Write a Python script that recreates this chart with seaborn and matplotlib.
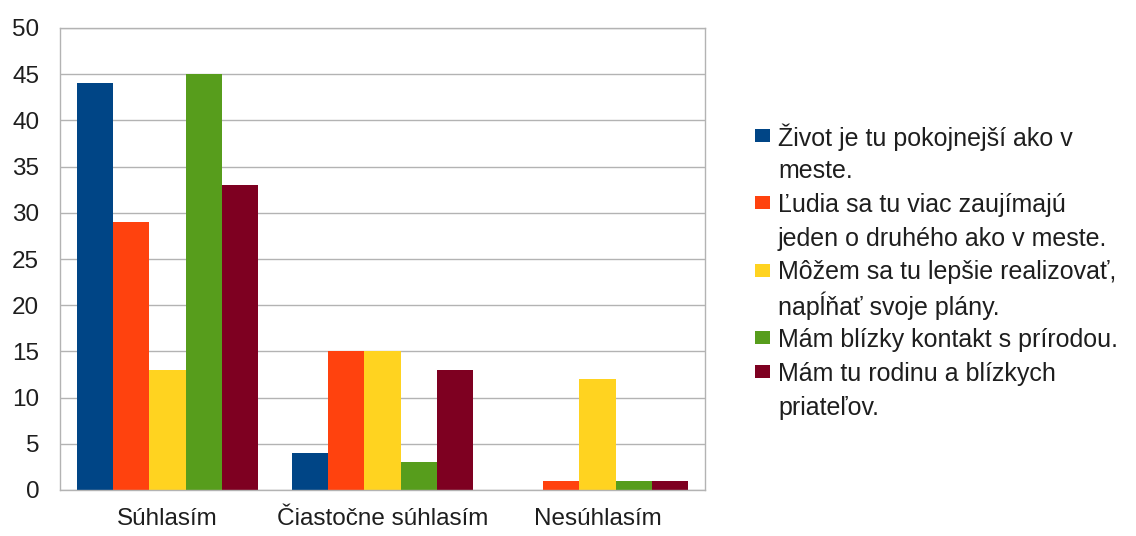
import pandas as pd
import matplotlib
matplotlib.use("Agg")
import matplotlib.pyplot as plt
from matplotlib.patches import Rectangle
import seaborn as sns

# Data
categories = ["Súhlasím", "Čiastočne súhlasím", "Nesúhlasím"]
series_names = [
    "Život je tu pokojnejší ako v\nmeste.",
    "Ľudia sa tu viac zaujímajú\njeden o druhého ako v meste.",
    "Môžem sa tu lepšie realizovať,\nnapĺňať svoje plány.",
    "Mám blízky kontakt s prírodou.",
    "Mám tu rodinu a blízkych\npriateľov.",
]
zivot = [44, 4, 0]
ludia = [29, 15, 1]
mozem = [13, 15, 12]
priroda = [45, 3, 1]
rodina = [33, 13, 1]
colors = ["#004586", "#ff420e", "#ffd320", "#579d1c", "#7e0021"]

rows = []
for name, vals in zip(series_names, [zivot, ludia, mozem, priroda, rodina]):
    for cat, v in zip(categories, vals):
        rows.append({"category": cat, "series": name, "value": v})
df = pd.DataFrame(rows)

sns.set_style("white")
plt.rcParams['font.family'] = ['Liberation Sans', 'DejaVu Sans']

W, H = 1136, 536
fig = plt.figure(figsize=(W / 100, H / 100), dpi=100)
ax = fig.add_axes([60 / W, 1 - 490 / H, 645 / W, 462 / H])

sns.barplot(data=df, x="category", y="value", hue="series", order=categories,
            hue_order=series_names, palette=colors, saturation=1, width=0.84,
            gap=0, linewidth=0, ax=ax, legend=False)

ax.set_ylim(0, 50)
ax.set_xlim(-0.5, 2.5)
ax.set_yticks(range(0, 51, 5))
ax.yaxis.grid(True, color="#b3b3b3", linewidth=1)
ax.set_axisbelow(True)
ax.set_xlabel("")
ax.set_ylabel("")

for s in ax.spines.values():
    s.set_color("#b3b3b3")
    s.set_linewidth(1)

txt_color = "#1e1e1e"
ax.tick_params(axis="y", length=6, color="#b3b3b3", labelsize=17.5, labelcolor=txt_color, pad=9)
ax.tick_params(axis="x", which="major", length=0, labelsize=17.5, labelcolor=txt_color, pad=13)
ax.set_xticks([-0.5, 0.5, 1.5, 2.5], minor=True)
ax.tick_params(axis="x", which="minor", length=10, color="#b3b3b3", width=1)

# legend: square beside the first line of each (wrapped) label
line_pitch = 33.75
y = 135
for name, c in zip(series_names, colors):
    fig.add_artist(Rectangle((755 / W, 1 - (y + 6.5) / H), 15 / W, 13 / H,
                             transform=fig.transFigure, color=c, lw=0))
    for line in name.split("\n"):
        fig.text(778 / W, 1 - y / H, line, fontsize=18, color=txt_color,
                 va="center_baseline", ha="left")
        y += line_pitch

fig.savefig("out.png", dpi=100)
